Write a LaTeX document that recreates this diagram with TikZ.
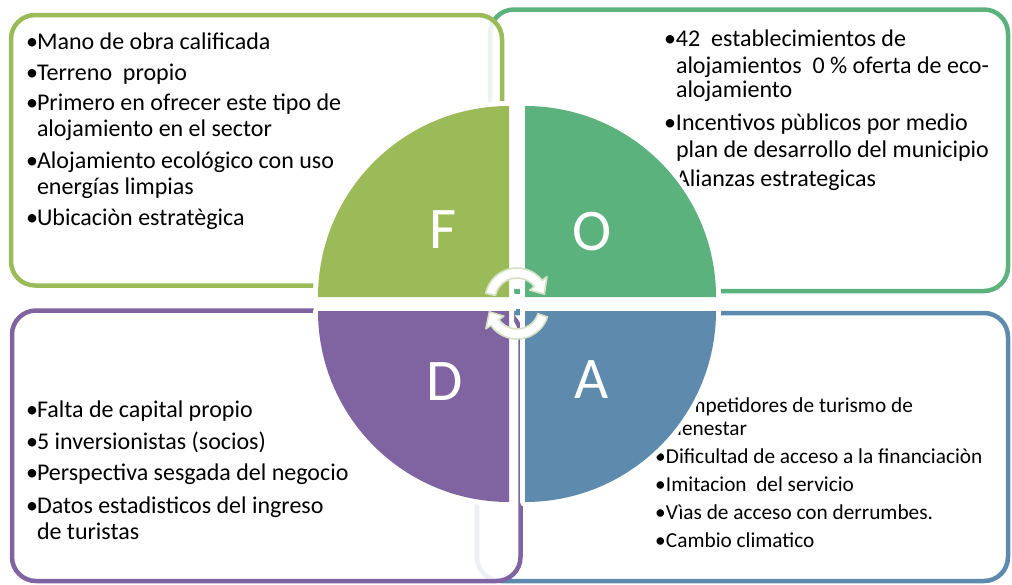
\documentclass[tikz,border=0pt]{standalone}
\usepackage{fontspec}
\setmainfont{Carlito}
\definecolor{cF}{RGB}{155,187,89}
\definecolor{cO}{RGB}{92,178,125}
\definecolor{cD}{RGB}{128,100,162}
\definecolor{cA}{RGB}{94,139,173}
\definecolor{paleG}{RGB}{212,226,198}
\newcommand{\bul}[1][11pt]{\makebox[#1][l]{•}}
\newcommand{\qF}{(509,297) -- (318,297) arc[start angle=180,end angle=270,radius=191] -- cycle}
\newcommand{\qO}{(525,297) -- (525,106) arc[start angle=270,end angle=360,radius=191] -- cycle}
\newcommand{\qA}{(525,311) -- (716,311) arc[start angle=0,end angle=90,radius=191] -- cycle}
\newcommand{\qD}{(509,311) -- (509,502) arc[start angle=90,end angle=180,radius=191] -- cycle}
\begin{document}
\begin{tikzpicture}[x=1pt,y=-1pt,
  every node/.style={inner sep=0pt, outer sep=0pt},
  txtL/.style={anchor=base west, font=\fontsize{24}{26}\selectfont},
  txtS/.style={anchor=base west, font=\fontsize{21.3}{23}\selectfont},
  box/.style={line width=4.5pt, rounded corners=24pt},
  letter/.style={text=white, font=\fontsize{59}{59}\selectfont, anchor=base},
  quadgap/.style={draw=white, line width=10pt, line join=round},
  cyc/.style={fill=white, draw=paleG, line width=1.6pt, line join=round}]
\useasboundingbox (0,0) rectangle (1012,584);
% outer boxes
\draw[box, draw=cO, fill=white] (490,9.5) rectangle (1008,291);
\draw[box, draw=cF, fill=white, fill opacity=0.88] (11,15) rectangle (502,285.5);
\draw[box, draw=cA, fill=white] (477,313) rectangle (1008,581);
\draw[box, draw=cD, fill=white, fill opacity=0.88] (12,310.5) rectangle (520.5,581);
% F texts
\node[txtL] (f1) at (26,49.3) {\bul Mano de obra calificada};
\node[txtL] (f2) at (26,80) {\bul Terreno~ propio};
\node[txtL] (f3) at (26,110.7) {\bul Primero en ofrecer este tipo de};
\node[txtL] (f4) at (37,136.7) {alojamiento en el sector};
\node[txtL] (f5) at (26,168) {\bul Alojamiento ecológico con uso};
\node[txtL] (f6) at (37,194) {energías limpias};
\node[txtL] (f7) at (26,225) {\bul Ubicaciòn estratègica};
% O texts
\node[txtL] (o1) at (664,46) {\bul[12pt]42~ establecimientos de};
\node[txtL] (o2) at (676,73) {alojamientos~ 0 \% oferta de eco-};
\node[txtL] (o3) at (676,97) {alojamiento};
\node[txtL] (o4) at (664,130.5) {\bul[12pt]Incentivos pùblicos por medio};
\node[txtL] (o5) at (676,157.6) {plan de desarrollo del municipio};
\node[txtL] (o6) at (664,186) {\bul[12pt]Alianzas estrategicas};
% D texts
\node[txtL] (d1) at (26,417.4) {\bul Falta de capital propio};
\node[txtL] (d2) at (26,449) {\bul 5 inversionistas (socios)};
\node[txtL] (d3) at (26,480.4) {\bul Perspectiva sesgada del negocio};
\node[txtL] (d4) at (26,513) {\bul Datos estadisticos del ingreso};
\node[txtL] (d5) at (37,539.7) {de turistas};
% A texts
\node[txtS] (a1) at (655,412) {\bul[11pt]Competidores de turismo de};
\node[txtS] (a2) at (666,435.7) {bienestar};
\node[txtS] (a3) at (655,463.9) {\bul[11pt]Dificultad de acceso a la financiaciòn};
\node[txtS] (a4) at (655,491.7) {\bul[11pt]Imitacion~ del servicio};
\node[txtS] (a5) at (655,519.9) {\bul[11pt]Vìas de acceso con derrumbes.};
\node[txtS] (a6) at (655,547) {\bul[11pt]Cambio climatico};
% quadrants
\path[quadgap] \qF; \path[quadgap] \qO; \path[quadgap] \qA; \path[quadgap] \qD;
\fill[cF] \qF; \fill[cO] \qO; \fill[cA] \qA; \fill[cD] \qD;
\node[letter] (LF) at (443,248) {F};
\node[letter] (LO) at (592,250) {O};
\node[letter] (LD) at (444.5,400) {D};
\node[letter] (LA) at (592,398.4) {A};
% centre marks
\fill[cO] (514.5,289) rectangle (519.5,294);
\fill[cA] (515.5,309) rectangle (519.5,314);
% cycle arrows
\begin{scope}[shift={(517,300)}]
\draw[cyc] (192:32) arc[start angle=192,end angle=322,radius=32] -- (322:38) -- (348:28) -- (322:16) -- (322:22) arc[start angle=322,end angle=192,radius=22] -- cycle;
\end{scope}
\begin{scope}[shift={(517,307)}]
\draw[cyc] (18:32) arc[start angle=18,end angle=145,radius=32] -- (145:38) -- (170:28) -- (145:16) -- (145:22) arc[start angle=145,end angle=18,radius=22] -- cycle;
\end{scope}
\end{tikzpicture}
\end{document}
